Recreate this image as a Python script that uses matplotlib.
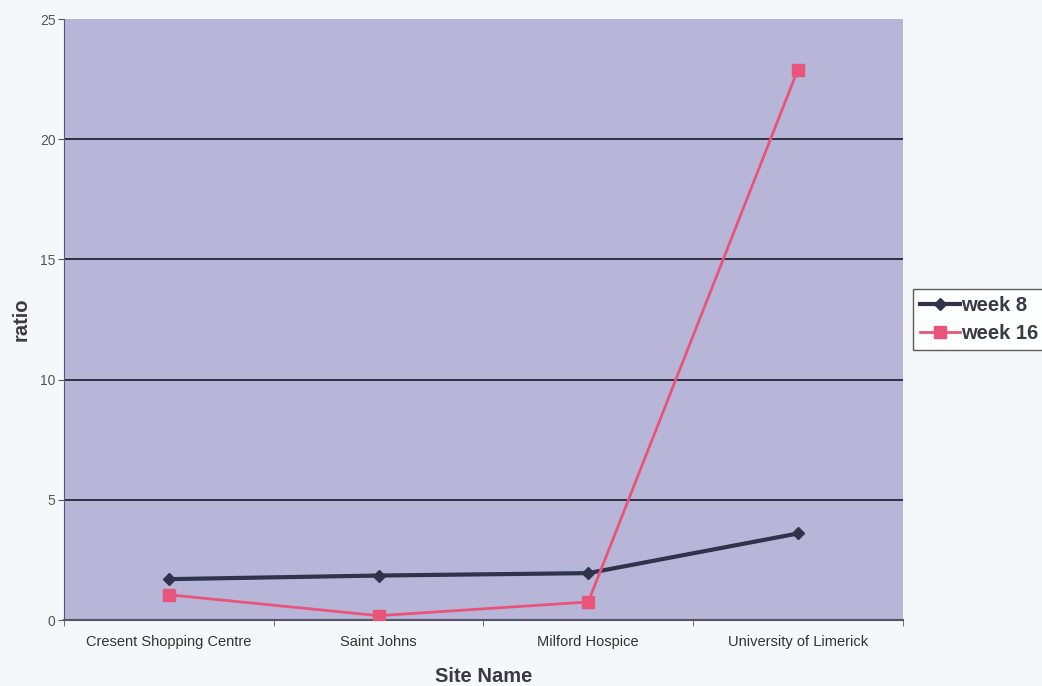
import numpy as np
import matplotlib.pyplot as plt

sites = ["Cresent Shopping Centre", "Saint Johns", "Milford Hospice", "University of Limerick"]
week8 = [1.7, 1.85, 1.95, 3.6]
week16 = [1.05, 0.18, 0.75, 22.9]
yticks = [0, 5, 10, 15, 20, 25]

plt.rcParams['font.family'] = ['Liberation Sans', 'DejaVu Sans']

fig = plt.figure(figsize=(10.42, 6.86), dpi=100, facecolor='#f5f8fa')
ax = fig.add_axes([0.0614, 0.0962, 0.805, 0.876])
ax.set_facecolor('#b7b6d9')

x = np.arange(len(sites))
for y in yticks[1:-1]:
    ax.axhline(y, color='#2e3040', lw=1.4, zorder=1)

ax.plot(x, week8, color='#30334a', lw=3, marker='D', ms=6, label='week 8', zorder=3)
ax.plot(x, week16, color='#e8547a', lw=2, marker='s', ms=9, label='week 16', zorder=3)

ax.set_xlim(-0.5, len(sites) - 0.5)
ax.set_ylim(0, 25)
ax.set_yticks(yticks)
ax.set_yticklabels([str(v) for v in yticks], fontsize=10, color='#555555')
ax.set_xticks(x)
ax.set_xticklabels(sites, fontsize=10.5, color='#333333')
ax.set_xticks(np.arange(len(sites) + 1) - 0.5, minor=True)
ax.tick_params(axis='x', which='major', length=0, pad=11)
ax.tick_params(axis='x', which='minor', length=4, color='#555566')
ax.tick_params(axis='y', length=4, color='#555566', pad=2)

for side in ['top', 'right']:
    ax.spines[side].set_visible(False)
ax.spines['left'].set_color('#555577')
ax.spines['bottom'].set_color('#555566')
ax.spines['bottom'].set_linewidth(1.5)

ax.set_xlabel('Site Name', fontsize=14.5, fontweight='bold', color='#3a3a44', labelpad=13)
ax.set_ylabel('ratio', fontsize=14.5, fontweight='bold', color='#3a3a44', labelpad=7)

leg = ax.legend(loc='center left', bbox_to_anchor=(1.0, 0.5),
                prop={'weight': 'bold', 'size': 14.5},
                frameon=True, fancybox=False, edgecolor='#333333', facecolor='white',
                handlelength=2.0, handletextpad=0.05, borderpad=0.35, labelspacing=0.45,
                borderaxespad=0.5)
leg.get_frame().set_linewidth(1)
for t in leg.get_texts():
    t.set_color('#3a3a44')

plt.savefig('out.png', dpi=100, facecolor=fig.get_facecolor())
